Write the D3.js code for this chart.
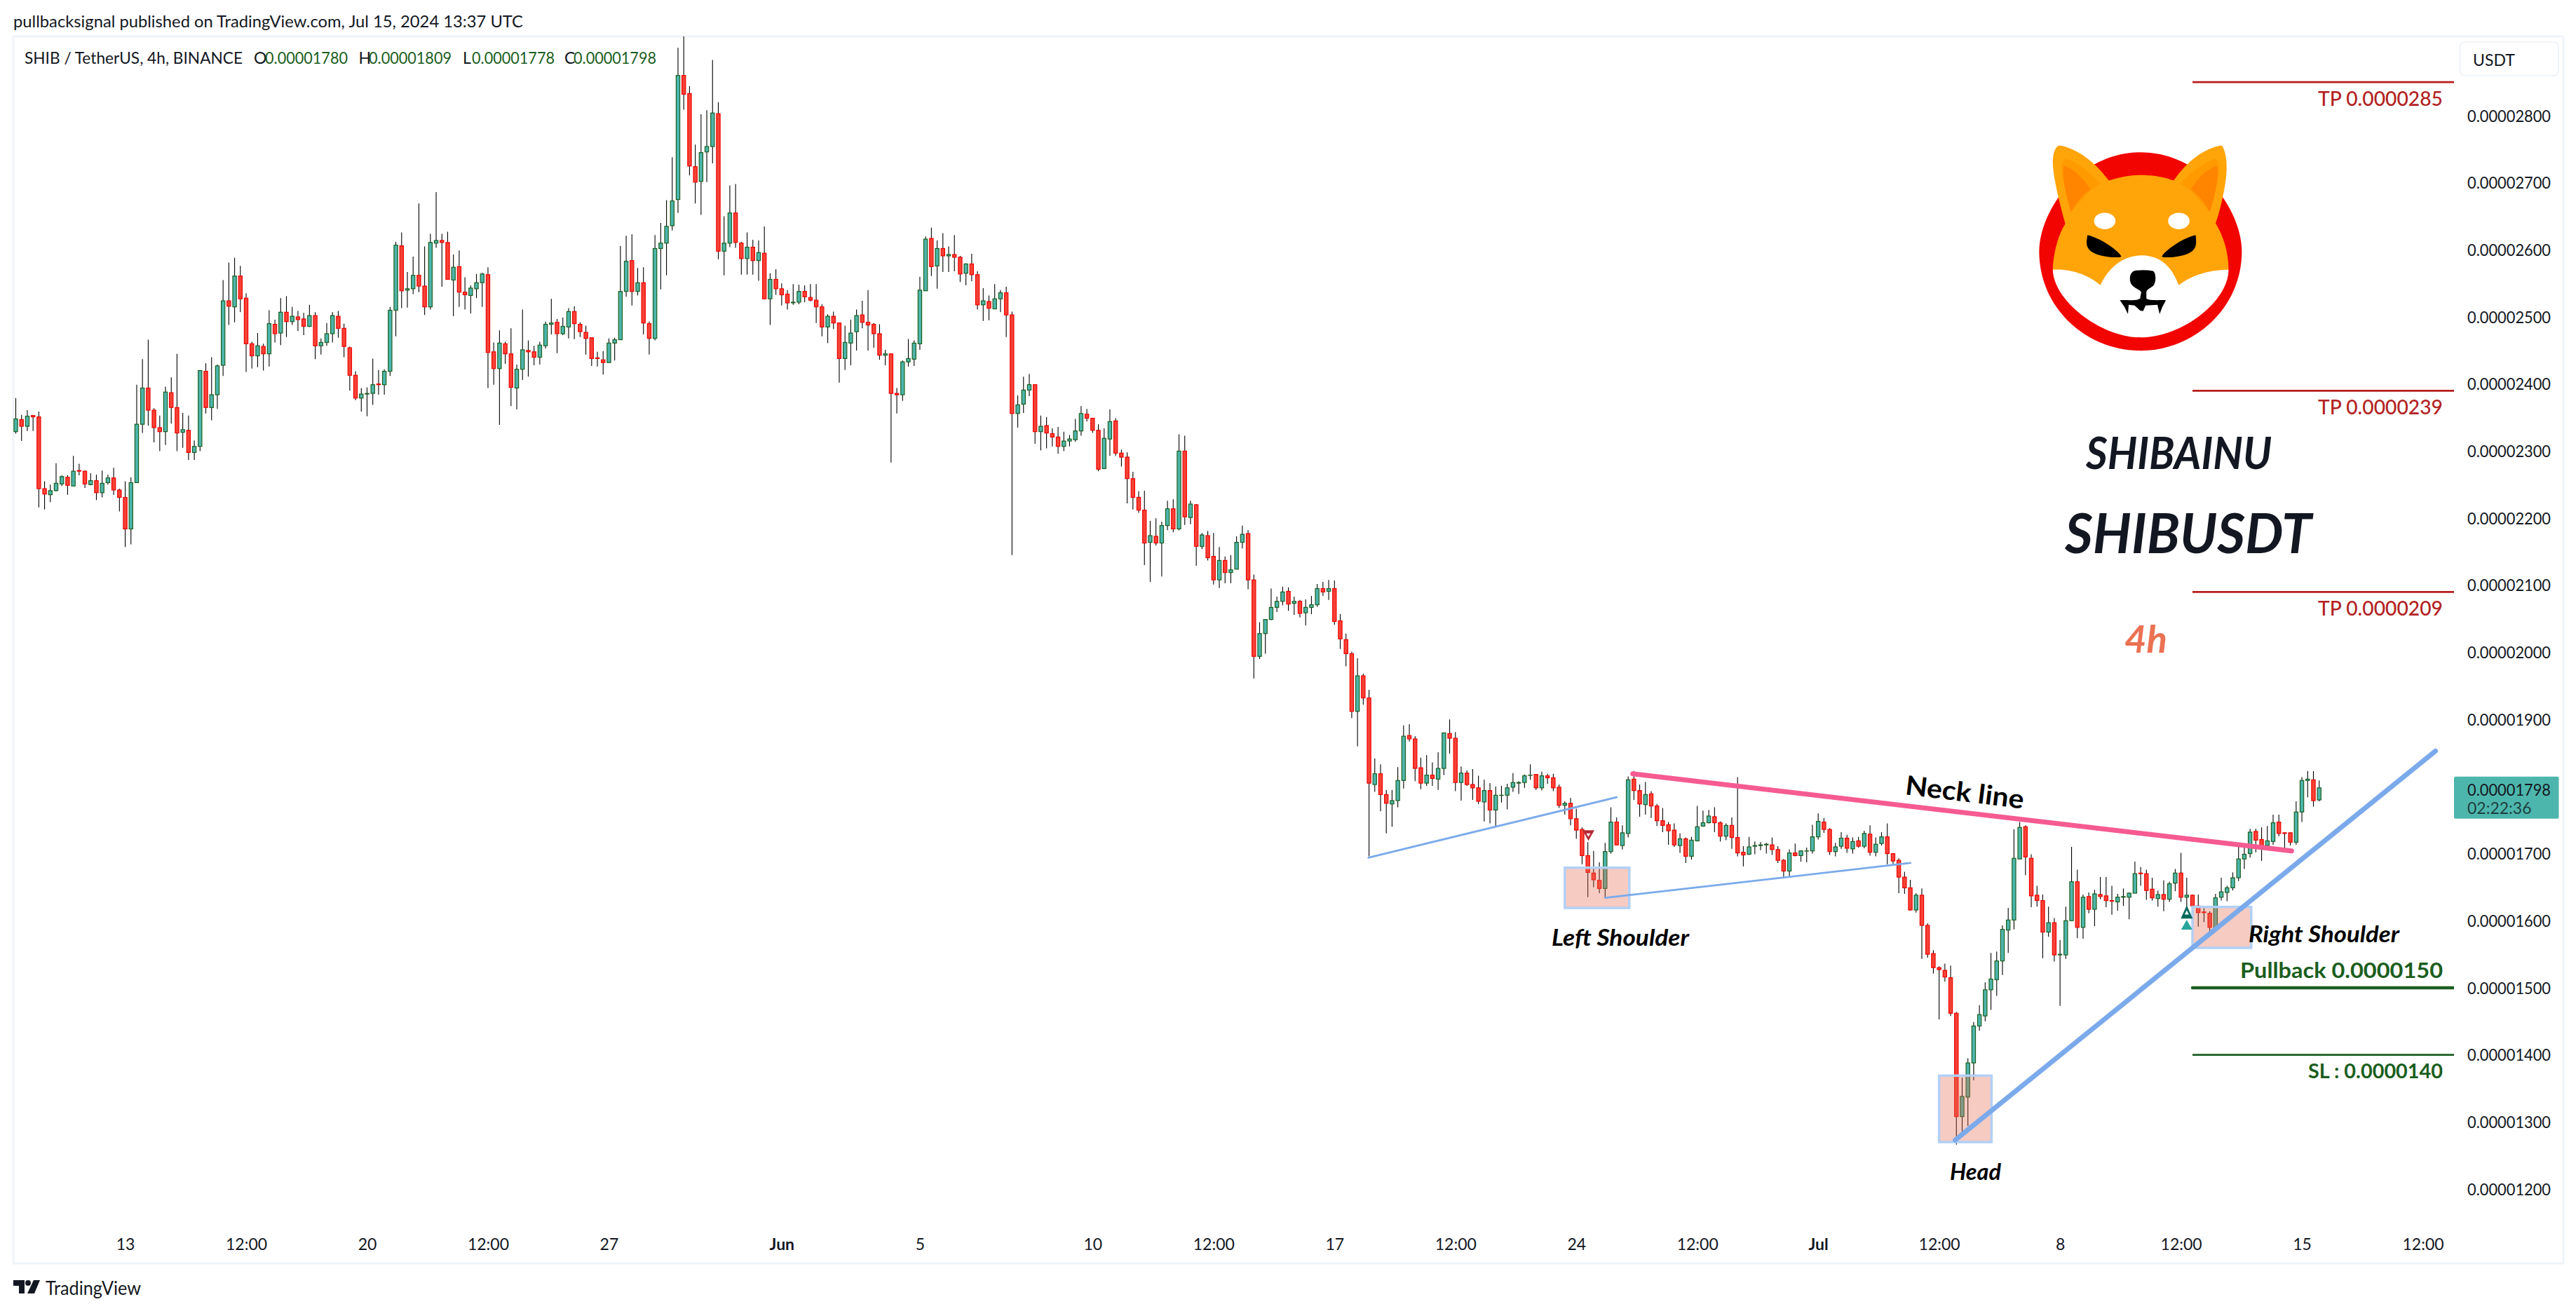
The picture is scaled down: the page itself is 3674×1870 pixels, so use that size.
<!DOCTYPE html>
<html><head><meta charset="utf-8">
<script src="https://cdn.jsdelivr.net/npm/d3@7/dist/d3.min.js"></script>
<style>html,body{margin:0;padding:0;background:#fff}svg{display:block}text{font-family:Lato,sans-serif}</style>
</head><body>
<svg id="c" width="3674" height="1870"></svg>
<script>
// all prices in units of 1e-8 USDT
const opens=[2329,2347,2337,2353,2351,2244,2235,2241,2251,2261,
2248,2271,2270,2250,2256,2238,2253,2260,2242,2231,
2184,2253,2340,2394,2361,2335,2329,2387,2365,2328,
2331,2298,2307,2419,2365,2384,2428,2524,2515,2561,
2528,2460,2442,2456,2445,2489,2476,2507,2493,2500,
2497,2486,2502,2457,2462,2475,2501,2483,2454,2413,
2379,2385,2386,2400,2399,2419,2510,2606,2540,2542,
2562,2546,2515,2610,2614,2611,2555,2575,2537,2532,
2542,2551,2563,2448,2423,2460,2445,2394,2422,2450,
2448,2440,2457,2489,2492,2475,2485,2508,2489,2477,
2469,2439,2436,2432,2461,2466,2538,2584,2538,2551,
2490,2468,2602,2610,2636,2675,2860,2833,2724,2702,
2746,2754,2803,2598,2610,2655,2610,2587,2604,2584,
2595,2527,2556,2542,2534,2521,2522,2538,2529,2525,
2515,2485,2501,2491,2438,2461,2478,2503,2492,2489,
2475,2443,2445,2386,2384,2433,2437,2460,2539,2617,
2576,2602,2591,2593,2589,2565,2579,2563,2518,2523,
2512,2527,2536,2503,2356,2370,2391,2399,2329,2338,
2326,2321,2307,2315,2317,2330,2355,2349,2331,2274,
2318,2345,2297,2291,2259,2231,2212,2164,2173,2163,
2189,2214,2184,2300,2201,2220,2158,2174,2143,2108,
2137,2119,2124,2164,2177,2108,1994,2028,2049,2067,
2076,2091,2073,2076,2059,2067,2071,2095,2091,2095,
2047,2019,1998,1912,1965,1932,1803,1819,1788,1774,
1779,1809,1876,1871,1828,1805,1817,1811,1827,1879,
1872,1806,1820,1803,1798,1777,1794,1765,1787,1787,
1799,1805,1806,1817,1818,1798,1816,1813,1799,1772,
1775,1752,1736,1697,1671,1660,1648,1703,1747,1712,
1730,1811,1794,1773,1789,1771,1749,1743,1735,1712,
1722,1696,1719,1741,1746,1755,1746,1726,1742,1724,
1702,1699,1711,1712,1713,1713,1706,1690,1674,1701,
1697,1704,1704,1725,1747,1736,1703,1711,1723,1707,
1719,1711,1729,1702,1715,1725,1700,1690,1665,1649,
1616,1638,1593,1551,1530,1526,1515,1462,1308,1337,
1388,1443,1458,1497,1512,1540,1586,1601,1692,1740,
1693,1638,1630,1583,1597,1549,1549,1600,1658,1590,
1636,1617,1639,1637,1630,1628,1635,1635,1641,1671,
1670,1647,1633,1639,1632,1656,1671,1635,1638,1622,
1613,1611,1589,1635,1642,1649,1664,1692,1700,1733,
1721,1712,1718,1747,1731,1731,1717,1762,1809,1810,1780];
const closes=[2348,2337,2352,2351,2244,2236,2241,2252,2262,2249,
2270,2270,2251,2256,2238,2252,2260,2242,2231,2184,
2253,2340,2394,2361,2335,2329,2388,2365,2327,2332,
2298,2307,2420,2365,2384,2427,2524,2516,2561,2527,
2460,2442,2457,2445,2490,2475,2507,2493,2501,2496,
2486,2502,2457,2462,2475,2502,2483,2456,2413,2379,
2385,2386,2399,2399,2419,2510,2607,2539,2542,2562,
2546,2515,2611,2614,2611,2556,2574,2537,2533,2543,
2551,2564,2447,2423,2461,2445,2395,2422,2451,2448,
2440,2458,2489,2491,2475,2486,2508,2490,2478,2468,
2438,2438,2432,2461,2466,2538,2583,2538,2551,2491,
2468,2602,2610,2635,2673,2860,2832,2725,2701,2745,
2754,2804,2598,2610,2655,2611,2587,2604,2584,2596,
2527,2556,2542,2533,2521,2522,2538,2530,2525,2515,
2485,2501,2491,2438,2462,2476,2502,2492,2488,2475,
2443,2445,2386,2384,2433,2438,2461,2540,2616,2575,
2602,2591,2593,2589,2564,2579,2563,2518,2524,2513,
2527,2536,2503,2356,2369,2391,2399,2329,2337,2327,
2321,2307,2315,2318,2330,2356,2349,2331,2273,2319,
2344,2297,2291,2259,2231,2212,2163,2174,2163,2189,
2214,2184,2300,2202,2221,2158,2175,2141,2108,2137,
2119,2123,2164,2176,2108,1994,2028,2049,2067,2076,
2090,2072,2076,2058,2067,2071,2095,2090,2095,2046,
2020,1998,1912,1965,1932,1805,1819,1788,1775,1779,
1809,1875,1871,1827,1805,1817,1812,1827,1880,1872,
1806,1820,1803,1798,1778,1794,1765,1787,1787,1798,
1806,1806,1816,1817,1798,1816,1813,1798,1772,1775,
1752,1735,1697,1672,1661,1648,1703,1747,1713,1731,
1810,1794,1774,1788,1771,1749,1742,1734,1713,1722,
1696,1720,1740,1746,1756,1746,1726,1742,1724,1701,
1698,1710,1712,1713,1714,1706,1690,1674,1701,1697,
1704,1704,1725,1748,1736,1703,1710,1723,1708,1718,
1711,1730,1702,1714,1725,1700,1689,1665,1649,1616,
1638,1593,1550,1530,1527,1516,1462,1308,1338,1388,
1443,1460,1497,1513,1540,1587,1601,1693,1739,1695,
1637,1630,1583,1597,1549,1550,1600,1658,1590,1635,
1617,1640,1636,1630,1629,1635,1636,1641,1670,1670,
1645,1634,1639,1632,1655,1671,1635,1638,1622,1612,
1612,1590,1634,1643,1649,1664,1692,1699,1732,1720,
1708,1719,1746,1730,1730,1717,1762,1809,1811,1779,1798];
const highs=[2379,2354,2361,2354,2359,2255,2250,2282,2264,2264,
2293,2281,2271,2267,2265,2271,2265,2275,2244,2255,
2261,2399,2437,2466,2364,2353,2396,2410,2445,2357,
2353,2316,2421,2431,2440,2429,2555,2581,2588,2576,
2535,2463,2476,2460,2510,2496,2528,2531,2515,2509,
2506,2518,2507,2468,2491,2507,2509,2490,2456,2419,
2394,2395,2438,2421,2422,2515,2612,2626,2567,2590,
2669,2605,2624,2686,2624,2627,2593,2599,2559,2547,
2564,2566,2574,2462,2480,2463,2483,2429,2511,2465,
2457,2463,2493,2527,2497,2499,2513,2516,2492,2487,
2469,2448,2449,2468,2469,2606,2621,2623,2573,2574,
2493,2622,2640,2674,2738,2901,2925,2844,2757,2802,
2808,2883,2820,2650,2696,2698,2612,2626,2615,2614,
2635,2565,2571,2550,2540,2549,2548,2547,2549,2549,
2519,2504,2508,2491,2487,2496,2511,2524,2540,2491,
2489,2451,2445,2394,2435,2467,2465,2560,2620,2633,
2614,2625,2605,2622,2591,2580,2594,2568,2543,2532,
2549,2540,2545,2508,2383,2411,2415,2399,2353,2351,
2334,2336,2329,2324,2348,2367,2363,2349,2340,2334,
2362,2349,2302,2298,2269,2240,2241,2196,2200,2195,
2226,2228,2325,2323,2226,2221,2178,2181,2178,2157,
2143,2145,2173,2189,2182,2116,2045,2049,2095,2083,
2098,2097,2083,2078,2079,2084,2102,2105,2108,2107,
2057,2028,2001,1991,1968,1944,1842,1833,1795,1795,
1829,1891,1893,1875,1843,1847,1836,1851,1880,1900,
1881,1830,1824,1826,1816,1810,1805,1800,1801,1804,
1820,1808,1818,1833,1818,1822,1819,1819,1803,1778,
1783,1767,1739,1717,1704,1687,1716,1769,1754,1742,
1815,1823,1803,1807,1793,1774,1768,1747,1745,1730,
1724,1725,1771,1764,1765,1769,1748,1745,1754,1814,
1711,1725,1718,1717,1716,1724,1711,1692,1706,1715,
1705,1709,1743,1760,1753,1738,1716,1732,1728,1724,
1725,1734,1742,1724,1732,1745,1700,1693,1673,1661,
1641,1648,1596,1556,1532,1536,1533,1464,1366,1395,
1449,1474,1508,1552,1554,1593,1619,1736,1747,1742,
1699,1652,1639,1621,1604,1571,1621,1710,1676,1639,
1642,1646,1665,1665,1652,1640,1648,1642,1688,1680,
1676,1664,1645,1660,1658,1677,1701,1664,1639,1639,
1621,1614,1640,1664,1652,1672,1715,1709,1737,1737,
1739,1741,1758,1758,1732,1732,1778,1814,1823,1823,1809];
const lows=[2326,2315,2330,2330,2216,2213,2224,2240,2248,2235,
2248,2264,2245,2249,2227,2231,2250,2235,2210,2157,
2161,2253,2327,2338,2313,2300,2309,2341,2300,2305,
2287,2287,2300,2356,2346,2363,2412,2488,2492,2507,
2418,2423,2425,2420,2426,2462,2458,2470,2488,2479,
2473,2485,2437,2444,2457,2462,2469,2440,2390,2376,
2359,2352,2369,2384,2384,2412,2471,2513,2514,2534,
2537,2503,2511,2603,2545,2556,2501,2515,2511,2505,
2528,2515,2394,2399,2339,2430,2367,2362,2406,2411,
2428,2429,2453,2474,2446,2473,2468,2467,2470,2444,
2427,2426,2414,2432,2435,2466,2530,2517,2532,2474,
2444,2465,2541,2562,2629,2655,2809,2711,2669,2652,
2701,2729,2586,2562,2604,2603,2563,2563,2563,2554,
2527,2488,2533,2517,2511,2518,2519,2522,2523,2491,
2471,2461,2482,2402,2421,2428,2450,2483,2450,2454,
2436,2428,2283,2356,2375,2426,2427,2451,2539,2561,
2542,2567,2567,2568,2552,2547,2553,2511,2494,2495,
2512,2507,2470,2145,2335,2357,2382,2311,2301,2304,
2307,2296,2300,2307,2314,2323,2344,2327,2270,2273,
2293,2293,2277,2222,2213,2208,2130,2105,2159,2113,
2182,2179,2182,2190,2191,2129,2154,2137,2101,2096,
2103,2103,2124,2155,2094,1961,1990,1998,2048,2060,
2070,2062,2056,2052,2040,2057,2068,2084,2078,2041,
2005,1979,1902,1860,1922,1696,1792,1763,1730,1740,
1769,1797,1867,1808,1796,1801,1801,1795,1817,1849,
1793,1779,1801,1780,1774,1748,1745,1741,1776,1766,
1792,1789,1798,1810,1795,1794,1804,1793,1768,1758,
1742,1722,1684,1635,1650,1641,1633,1700,1712,1706,
1724,1780,1755,1758,1753,1741,1732,1713,1710,1701,
1686,1691,1718,1740,1745,1732,1718,1720,1707,1696,
1681,1698,1699,1705,1700,1698,1686,1665,1665,1696,
1688,1687,1700,1721,1731,1698,1696,1707,1701,1700,
1709,1708,1697,1696,1712,1684,1683,1641,1640,1615,
1612,1543,1545,1521,1453,1509,1458,1266,1283,1294,
1362,1436,1450,1467,1488,1519,1552,1587,1692,1668,
1620,1621,1544,1576,1539,1473,1543,1600,1574,1573,
1611,1592,1632,1620,1609,1615,1622,1602,1641,1652,
1631,1630,1621,1614,1628,1644,1628,1621,1614,1591,
1598,1584,1589,1630,1629,1645,1659,1677,1694,1702,
1689,1708,1713,1726,1708,1712,1713,1747,1784,1770,1778];

// bar index of each time-axis label (bars are 4h; bar 0 = May 9 20:00)
const timeTickBars=[19,40,61,82,103,133,157,187,208,229,250,271,292,313,334,355,376,397,418];
const timeTickLabels=["13","12:00","20","12:00","27","Jun","5","10","12:00","17","12:00","24","12:00","Jul","12:00","8","12:00","15","12:00"];
const priceTicks=[1200,1300,1400,1500,1600,1700,1900,2000,2100,2200,2300,2400,2500,2600,2700,2800];

// drawing tools, in [bar, price]
const neckLine=[[280.8,1819],[395.2,1704]];
const supportThinA=[[234.9,1694],[278,1784]];
const supportThinB=[[276,1634],[329,1686]];
const trendLine=[[336.8,1273],[420.2,1853]];
const zones=[{b0:269,b1:280.2,p0:1679,p1:1619},{b0:334,b1:343.1,p0:1369,p1:1270},{b0:378,b1:388.2,p0:1620.5,p1:1559.5}];
const tpLevels=[2850,2390,2090];
const tpNames=["TP 0.0000285","TP 0.0000239","TP 0.0000209"];
const pullbackLevel=1500, stopLevel=1400;
const levelStartBar=378;

const svg=d3.select("#c");
const x=d3.scaleLinear().domain([0,400]).range([22.5,3307.7]);
const y=d3.scaleLinear().domain([1200,2800]).range([1696,165]);
const PANE={l:19,t:52,r:3500,b:1802};

svg.append("rect").attr("width",3674).attr("height",1870).attr("fill","#fff");
svg.append("defs").append("clipPath").attr("id","pane").append("rect")
 .attr("x",PANE.l).attr("y",PANE.t).attr("width",PANE.r-PANE.l).attr("height",PANE.b-PANE.t);

// frame
svg.append("rect").attr("x",19).attr("y",52).attr("width",3637).attr("height",1750)
 .attr("fill","none").attr("stroke","#f0f3fa").attr("stroke-width",3);

// candles
const bars=d3.range(opens.length).map(i=>({i,o:opens[i],h:highs[i],l:lows[i],c:closes[i]}));
const chart=svg.append("g").attr("clip-path","url(#pane)");
const gBars=chart.append("g").selectAll("g").data(bars).join("g");
gBars.append("line").attr("x1",d=>x(d.i)).attr("x2",d=>x(d.i)).attr("y1",d=>y(d.h)).attr("y2",d=>y(d.l))
 .attr("stroke","#000").attr("stroke-width",1.1);
gBars.append("rect").attr("x",d=>x(d.i)-2.6).attr("width",5.2)
 .attr("y",d=>y(Math.max(d.o,d.c))).attr("height",d=>Math.max(0.3,Math.abs(y(d.o)-y(d.c))))
 .attr("fill",d=>d.c>=d.o?"#4db6ac":"#f44336").attr("stroke",d=>d.c>=d.o?"#1b5e20":"#f20000").attr("stroke-width",1.2);

// zones
chart.append("g").selectAll("rect").data(zones).join("rect")
 .attr("x",d=>x(d.b0)).attr("width",d=>x(d.b1)-x(d.b0)).attr("y",d=>y(d.p0)).attr("height",d=>y(d.p1)-y(d.p0))
 .attr("fill","rgba(229,106,81,.35)").attr("stroke","#b2d0f6").attr("stroke-width",3.5);

// lines
const line=d3.line().x(d=>x(d[0])).y(d=>y(d[1]));
function trend(pts,col,w){chart.append("path").attr("d",line(pts)).attr("fill","none").attr("stroke",col).attr("stroke-width",w).attr("stroke-linecap","round");}
trend(supportThinA,"#7baaeb",2.8);
trend(supportThinB,"#7baaeb",2.8);
trend(neckLine,"#f55b91",7);
trend(trendLine,"#7baaeb",7);

// level lines
tpLevels.forEach(p=>chart.append("line").attr("x1",x(levelStartBar)).attr("x2",PANE.r).attr("y1",y(p)).attr("y2",y(p)).attr("stroke","#b71c1c").attr("stroke-width",2.8));
chart.append("line").attr("x1",x(levelStartBar)).attr("x2",PANE.r).attr("y1",y(pullbackLevel)).attr("y2",y(pullbackLevel)).attr("stroke","#1b5e20").attr("stroke-width",4.4).attr("stroke-linecap","round");
chart.append("line").attr("x1",x(levelStartBar)).attr("x2",PANE.r).attr("y1",y(stopLevel)).attr("y2",y(stopLevel)).attr("stroke","#1b5e20").attr("stroke-width",2.8);

// markers
function tri(bar,price,w,h,dir,col,hole){
 const cx=x(bar),cy=y(price),s=dir;
 chart.append("path").attr("d",`M${cx-w/2},${cy-s*h/2}L${cx+w/2},${cy-s*h/2}L${cx},${cy+s*h/2}Z`).attr("fill",col);
 if(hole)chart.append("path").attr("d",`M${cx-3},${cy-s*h/5}L${cx+3},${cy-s*h/5}L${cx},${cy+s*h/8}Z`).attr("fill","#fff");
}
tri(273.1,1727,17,15,1,"#b42a36",true);
tri(377,1613,17,19,-1,"#00695c",true);
tri(377,1594,16,14,-1,"#26a69a",false);

function txt(s,px,py,size,col,o={}){
 const t=svg.append("text").attr("x",px).attr("y",py).attr("font-size",size).attr("fill",col).text(s)
  .attr("dominant-baseline",o.base||"central").attr("text-anchor",o.anchor||"start");
 if(o.weight)t.attr("font-weight",o.weight);
 if(o.italic)t.attr("font-style","italic");
 if(o.rot!==undefined)t.attr("transform",`rotate(${o.rot} ${px} ${py})`);
 if(o.len)t.attr("textLength",o.len).attr("lengthAdjust","spacingAndGlyphs");
 return t;
}
// annotations
const DARK="#131722",GR="#1b5e20",RD="#b22222";
tpNames.forEach((s,k)=>txt(s,3484,y(tpLevels[k])+22,29,RD,{anchor:"end",weight:500,len:178}));
txt("Pullback 0.0000150",3484,1383,31,GR,{anchor:"end",weight:700,len:289});
txt("SL : 0.0000140",3484,1527,28,GR,{anchor:"end",weight:700,len:192});
txt("SHIBAINU",2975,669,64,DARK,{base:"auto",italic:true,weight:700,len:265});
txt("SHIBUSDT",2945,789,78,DARK,{base:"auto",italic:true,weight:700,len:352});
txt("4h",3030,931,54,"#eb7153",{base:"auto",italic:true,weight:700,len:61});
txt("Neck line",2718,1118,38,"#000",{weight:700,rot:7,len:170});
txt("Left Shoulder",2213,1336,32,"#000",{italic:true,weight:700,len:196});
txt("Head",2781,1670,32,"#000",{italic:true,weight:700,len:73});
txt("Right Shoulder",3207,1331,32,"#000",{italic:true,weight:700,len:215});

// header + legend
txt("pullbacksignal published on TradingView.com, Jul 15, 2024 13:37 UTC",19,30,23.5,DARK,{len:727});
txt("SHIB / TetherUS, 4h, BINANCE",35,82,23,DARK,{len:311});
[["O","0.00001780",362,378],["H","0.00001809",511.5,526],["L","0.00001778",660,673],["C","0.00001798",805,818]].forEach(a=>{
 txt(a[0],a[2],82,23,DARK);txt(a[1],a[3],82,23,GR,{len:118});
});

// axes
const yAxis=d3.axisRight(y).tickValues(priceTicks).tickSize(0).tickPadding(0).tickFormat(d=>(d*1e-8).toFixed(8));
const ga=svg.append("g").attr("transform","translate(3519,0)").call(yAxis);
ga.select(".domain").remove();
ga.selectAll("text").attr("font-family","Lato,sans-serif").attr("font-size",23).attr("fill",DARK).attr("dy","0.35em").attr("textLength",119).attr("lengthAdjust","spacingAndGlyphs");
const xAxis=d3.axisBottom(x).tickValues(timeTickBars).tickSize(0).tickPadding(0).tickFormat((d,i)=>timeTickLabels[i]);
const gx=svg.append("g").attr("transform","translate(0,1775)").call(xAxis);
gx.select(".domain").remove();
gx.selectAll("text").attr("font-family","Lato,sans-serif").attr("font-size",23).attr("fill",DARK).attr("dy","0.35em").attr("font-weight",d=>[133,313].includes(d)?700:400);

// USDT box
svg.append("rect").attr("x",3508.5).attr("y",60).attr("width",140.5).attr("height",48).attr("rx",7).attr("fill","#fff").attr("stroke","#f0f3fa").attr("stroke-width",2);
txt("USDT",3527,84.5,23,DARK);

// last price label
svg.append("rect").attr("x",3500).attr("y",y(closes[closes.length-1])-16).attr("width",149.5).attr("height",60).attr("rx",2).attr("fill","#4db6ac");
txt("0.00001798",3519,1125.5,23,DARK,{len:119});
txt("02:22:36",3519,1152,23,"#1d3f3f");

// TradingView mark
const tv=svg.append("g").attr("transform","translate(19,1826)");
tv.append("path").attr("d","M0 0H16V19H8V8H0Z").attr("fill",DARK);
tv.append("circle").attr("cx",21).attr("cy",4).attr("r",4).attr("fill",DARK);
tv.append("path").attr("d","M29 0H38L30 19H20Z").attr("fill",DARK);
txt("TradingView",65,1837,26,DARK,{len:136});

// Shiba logo
const logo=svg.append("g").attr("transform","translate(2850,0) scale(0.5255,0.3578)");
logo.append("path").attr("fill","#f20500").attr("d","M386 607C560 607 661 850 661 1002C661 1230 530 1398 386 1398C240 1398 111 1230 111 1002C111 850 215 607 386 607Z");
logo.append("path").attr("fill","#ffa409").attr("d","M165 580C215 590 265 650 300 720C330 705 360 698 386 698C420 698 450 705 476 720C510 650 555 590 607 580C625 620 622 700 610 780C603 830 597 860 590 890C610 940 625 1000 625 1075L490 1140L277 1140L148 1075C150 1000 165 930 182 892C170 830 150 720 148 650C148 610 155 585 165 580Z");
[0,1].forEach(m=>{
 const g=logo.append("g").attr("transform",m?"translate(772,0) scale(-1,1)":null);
 g.append("path").attr("fill","#ff9a00").attr("d","M182 632C215 645 255 695 277 732L248 760L198 845C185 790 172 700 172 670C172 650 178 638 182 632Z");
 g.append("path").attr("fill","#ff8500").attr("d","M178 662C205 670 235 720 250 755C225 780 208 815 198 845C185 790 172 700 178 662Z");
});
logo.append("path").attr("fill","#fff").attr("d","M148 1075C150 1200 280 1345 386 1345C500 1345 625 1200 625 1075C570 1075 520 1100 490 1137C475 1080 450 1020 390 1018C330 1020 295 1080 277 1137C250 1100 200 1070 148 1075Z");
logo.append("ellipse").attr("cx",289).attr("cy",881).attr("rx",29).attr("ry",33).attr("fill","#fff");
logo.append("ellipse").attr("cx",490).attr("cy",881).attr("rx",29).attr("ry",33).attr("fill","#fff");
logo.append("path").attr("fill","#000").attr("d","M242 938C270 945 320 990 334 1022C334 1028 300 1028 270 1015C250 1005 238 990 240 960Z");
logo.append("path").attr("fill","#000").attr("d","M536 938C508 945 458 990 444 1022C444 1028 478 1028 508 1015C528 1005 538 990 537 960Z");
logo.append("path").attr("fill","#000").attr("d","M368 1080Q392 1074 420 1080C430 1090 428 1130 420 1140C410 1150 402 1155 402 1165L402 1190C410 1200 440 1195 455 1197L445 1225L438 1252L432 1215L400 1218L393 1240L385 1238L370 1218L354 1215L352 1252L342 1222L330 1197C350 1195 375 1200 385 1190L388 1165C385 1155 370 1150 362 1135C355 1120 355 1090 368 1080Z");
</script>
</body></html>
